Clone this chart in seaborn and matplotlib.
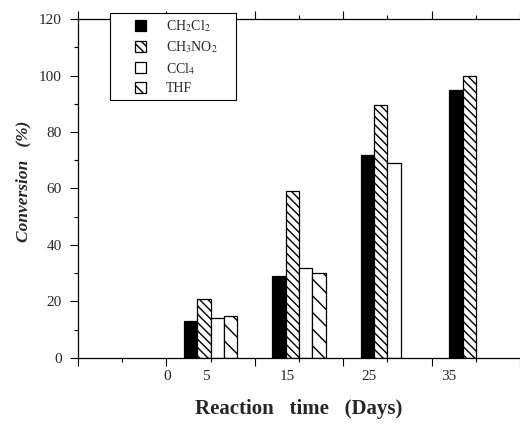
import pandas as pd
import seaborn as sns
import matplotlib.pyplot as plt
from matplotlib.patches import Patch, Rectangle
from matplotlib.legend_handler import HandlerPatch
from matplotlib.ticker import MultipleLocator

# data
days = [5, 15, 25, 35]
solvents = ["CH2Cl2", "CH3NO2", "CCl4", "THF"]
solvent_labels = ["CH$_2$Cl$_2$", "CH$_3$NO$_2$", "CCl$_4$", "THF"]
ch2cl2 = [13, 29, 72, 95]
ch3no2 = [21, 59, 89.5, 100]
ccl4 = [14, 32, 69, None]
thf = [15, 30, None, None]

x_tick_labels = ["0", "5", "15", "25", "35"]
x_label_pos = [0.1, 4.5, 13.7, 22.9, 32.0]

rows = []
for name, vals in zip(solvents, [ch2cl2, ch3no2, ccl4, thf]):
    for d, v in zip(days, vals):
        if v is not None:
            rows.append({"day": d, "conv": v, "solvent": name})
df = pd.DataFrame(rows)

sns.set_style("ticks")
plt.rcParams["font.family"] = ["Liberation Serif", "DejaVu Serif"]
plt.rcParams["mathtext.fontset"] = "stix"
plt.rcParams["hatch.linewidth"] = 1.0

faces = ["black", "white", "white", "white"]
hatches = ["", "\\\\\\\\", "", "\\\\"]

fig = plt.figure(figsize=(5.2, 4.24), dpi=100)
ax = fig.add_axes([0.15, 0.156, 0.85, 0.799])

sns.barplot(data=df, x="day", y="conv", hue="solvent", hue_order=solvents,
            native_scale=True, width=0.6, palette=faces, edgecolor="black",
            linewidth=0.9, errorbar=None, legend=False, ax=ax)

for cont, fc, h in zip(ax.containers, faces, hatches):
    for bar in cont:
        bar.set_facecolor(fc)
        bar.set_hatch(h)
        bar.set_edgecolor("black")

ax.set_xlim(-10, 40)
ax.set_ylim(0, 120)
ax.set_xticks([-10, 0, 10, 20, 30, 40], labels=[""] * 6)
ax.xaxis.set_minor_locator(MultipleLocator(5))
ax.yaxis.set_major_locator(MultipleLocator(20))
ax.yaxis.set_minor_locator(MultipleLocator(10))
ax.tick_params(which="both", direction="out", top=True, color="black",
               labelsize=11, width=0.8)
ax.tick_params(which="major", length=6)
ax.tick_params(which="minor", length=3)
ax.tick_params(axis="y", which="major", pad=5.5)
ax.spines["right"].set_visible(False)
for s in ["left", "bottom", "top"]:
    ax.spines[s].set_linewidth(0.9)
    ax.spines[s].set_color("black")

for p, t in zip(x_label_pos, x_tick_labels):
    ax.text(p, -0.035, t, transform=ax.get_xaxis_transform(),
            ha="center", va="top", fontsize=11)

ax.set_xlabel("Reaction   time   (Days)", fontsize=15, fontweight="bold",
              labelpad=20)
ax.set_ylabel("Conversion   (%)", fontsize=12.5, fontweight="bold",
              fontstyle="italic")
ax.yaxis.set_label_coords(-0.106, 0.52)


def small_square(legend, orig_handle, xdescent, ydescent, width, height, fontsize):
    s = 8
    return Rectangle((width / 2 - s / 2 - xdescent + 3, height / 2 - s / 2 - ydescent), s, s)


handles = [Patch(facecolor=fc, edgecolor="black", hatch=h, linewidth=0.9)
           for fc, h in zip(faces, hatches)]
leg = fig.legend(handles, solvent_labels, loc="upper left",
                 bbox_to_anchor=(110 / 520, 1 - 97 / 424, 126 / 520, 84 / 424),
                 mode="expand", frameon=True,
                 fancybox=False, edgecolor="black", framealpha=1,
                 handlelength=3.0, handleheight=0.8, labelspacing=0.38,
                 borderpad=0.4, handletextpad=0.6, borderaxespad=0,
                 fontsize=10,
                 handler_map={Patch: HandlerPatch(patch_func=small_square)})
leg.get_frame().set_linewidth(0.8)

plt.savefig("out.png", dpi=100)
